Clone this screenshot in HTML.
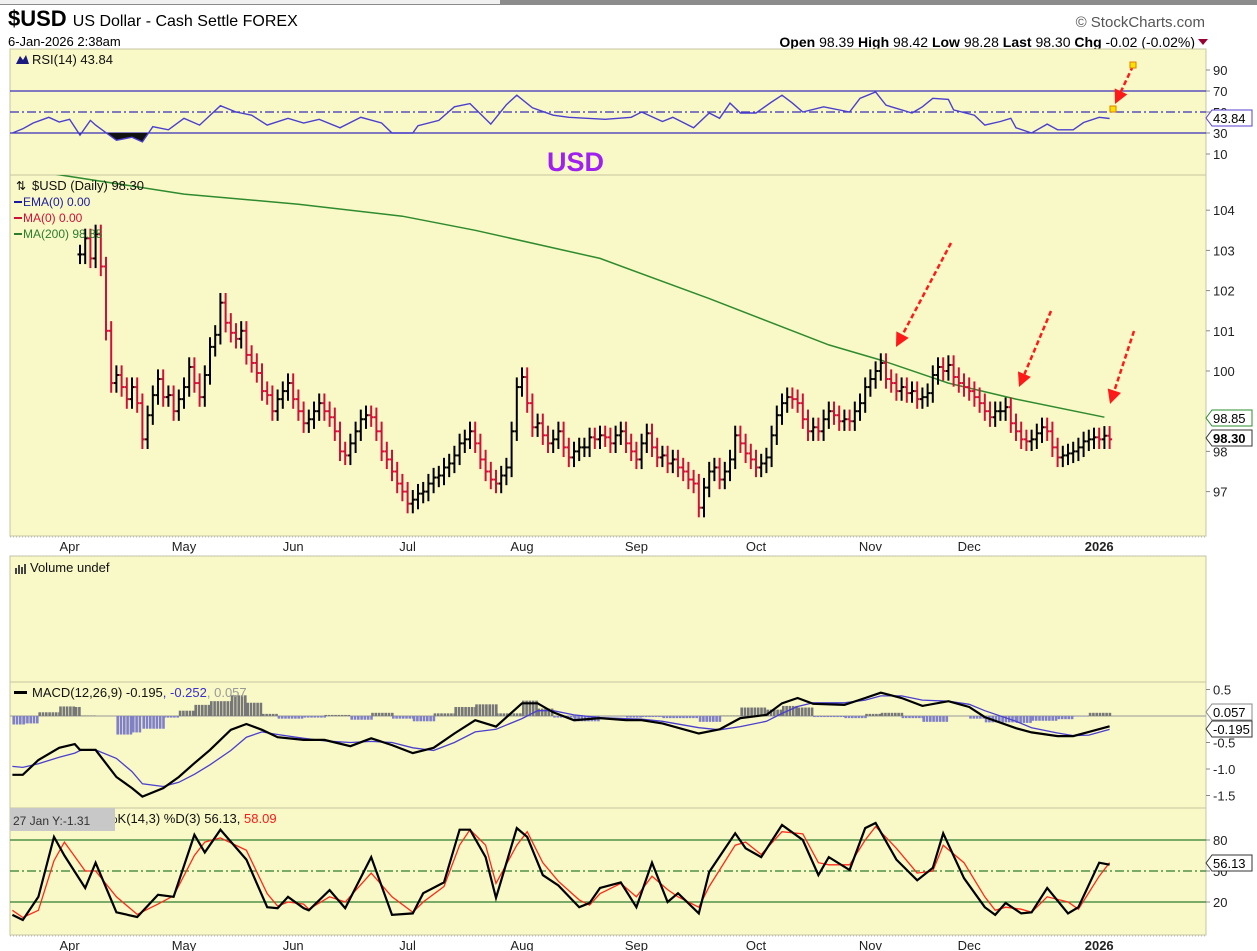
<!DOCTYPE html>
<html><head><meta charset="utf-8">
<style>
html,body{margin:0;padding:0;background:#fff;}
svg{display:block;font-family:"Liberation Sans",sans-serif;}
</style></head>
<body>
<svg id="chart" width="1257" height="951" viewBox="0 0 1257 951" xmlns="http://www.w3.org/2000/svg">
  <rect x="0" y="0" width="1257" height="951" fill="#ffffff"/>
  <rect x="0" y="0" width="1257" height="5" fill="#8c8c8c"/>
  <rect x="0" y="0" width="500" height="4" fill="#f0f0f0"/>
  <text x="8" y="26" font-size="22" font-weight="bold" fill="#000">$USD <tspan font-size="16" font-weight="normal">US Dollar - Cash Settle FOREX</tspan></text>
  <text x="8" y="46" font-size="13" fill="#000">6-Jan-2026 2:38am</text>
  <text x="1205" y="27" font-size="15" fill="#555" text-anchor="end">© StockCharts.com</text>
  <text x="1195" y="47" font-size="14" fill="#000" text-anchor="end"><tspan font-weight="bold">Open</tspan> 98.39  <tspan font-weight="bold">High</tspan> 98.42  <tspan font-weight="bold">Low</tspan> 98.28  <tspan font-weight="bold">Last</tspan> 98.30  <tspan font-weight="bold">Chg</tspan> -0.02 (-0.02%)</text>
  <path d="M1198 39 L1208 39 L1203 45 Z" fill="#990033"/>
  <g id="panels"></g>
  <g id="marks"></g>
</svg>
<script>
// ---------------- data ----------------
const closes = [102.9,103.3,102.8,103.4,102.6,101.0,99.7,99.9,99.6,99.3,
99.6,99.2,98.3,98.9,99.4,99.8,99.35,99.4,99.0,99.3,
99.6,100.1,99.7,99.35,99.9,100.6,100.9,101.7,101.2,100.95,
100.8,101.0,100.4,100.2,99.95,99.5,99.4,99.0,99.3,99.5,
99.7,99.3,99.0,98.7,98.8,99.0,99.2,99.0,98.85,98.5,
98.0,97.9,98.2,98.5,98.8,98.9,98.85,98.5,98.0,97.8,
97.5,97.2,97.0,96.7,96.8,96.95,97.0,97.2,97.35,97.4,
97.6,97.7,97.9,98.2,98.3,98.5,98.2,97.8,97.5,97.3,
97.2,97.4,97.6,98.5,99.6,99.85,99.2,98.6,98.7,98.4,
98.2,98.3,98.5,98.1,97.85,98.0,98.1,98.1,98.35,98.3,
98.4,98.35,98.2,98.4,98.5,98.2,98.0,97.8,98.2,98.45,
98.1,97.85,97.9,97.7,97.8,97.6,97.5,97.3,97.2,96.6,
97.1,97.5,97.6,97.3,97.5,97.8,98.4,98.2,97.95,97.8,
97.6,97.7,97.85,98.4,98.9,99.2,99.35,99.3,99.2,98.8,
98.5,98.6,98.5,98.8,99.0,98.9,98.75,98.8,98.75,99.0,
99.2,99.6,99.8,100.0,100.2,99.8,99.7,99.5,99.6,99.45,
99.5,99.3,99.35,99.45,99.9,100.1,100.0,100.15,99.85,99.7,
99.6,99.5,99.35,99.2,99.0,98.85,99.0,99.0,99.1,98.7,
98.5,98.3,98.25,98.3,98.45,98.6,98.5,98.1,97.85,97.9,
97.95,98.0,98.1,98.25,98.3,98.35,98.3,98.39,98.30];
const barRange = 0.24;

const maIdx = [-5,20,42,62,76,100,121,144,154,167,180,197];
const maVals = [104.9,104.4,104.15,103.85,103.5,102.8,101.8,100.65,100.27,99.7,99.3,98.85];

const rsiIdx = [-13,-11,-9,-6,-4,-2,0,2,3,7,10,12,14,17,20,23,27,30,33,36,40,43,46,50,54,58,60,64,65,69,72,75,79,82,84,87,91,94,101,106,108,112,114,118,121,123,125,127,130,133,135,137,139,143,148,150,153,155,160,162,164,167,168,172,174,177,179,180,183,186,188,191,193,196,198];
const rsiVals = [30,34,39.5,45,40.5,43,28,42,37.5,23,26,21.5,36,33,44,37.5,56,50,47,37.5,44,39.5,43,35,45,39.5,30,30,37,42,55,58,38.5,57,66,54,47,45,43,45,50,41,45,35,49,44,58.5,49,49,59.5,66,58.5,50,55,50,63,69,56.5,49,55,63,62,52,47,37.5,41,44,35,30,38.5,33,33,40,45,43.84];

const macdIdx = [-13,-11,-8,-4,-1,0,3,7,10,12,16,19,22,25,29,32,35,38,43,47,52,56,60,64,68,72,76,80,85,88,91,95,100,105,108,112,119,123,127,132,135,138,141,147,151,154,158,162,167,171,174,180,183,188,191,194,198];
const macdVals = [-1.11,-1.11,-0.83,-0.6,-0.53,-0.64,-0.64,-1.15,-1.36,-1.52,-1.36,-1.15,-0.89,-0.64,-0.26,-0.15,-0.26,-0.4,-0.45,-0.45,-0.57,-0.42,-0.55,-0.7,-0.6,-0.33,-0.08,-0.2,0.24,0.24,0.07,-0.08,-0.04,-0.08,-0.08,-0.14,-0.33,-0.25,-0.04,0.02,0.24,0.34,0.23,0.21,0.34,0.44,0.34,0.19,0.28,0.17,-0.02,-0.23,-0.31,-0.38,-0.38,-0.3,-0.195];
const signalVals = [-0.95,-0.97,-0.9,-0.78,-0.7,-0.65,-0.64,-0.8,-1.05,-1.28,-1.33,-1.25,-1.1,-0.92,-0.65,-0.4,-0.3,-0.35,-0.42,-0.47,-0.5,-0.48,-0.5,-0.6,-0.65,-0.5,-0.3,-0.25,-0.05,0.1,0.1,0.02,-0.03,-0.05,-0.06,-0.1,-0.22,-0.26,-0.2,-0.1,0.05,0.18,0.25,0.25,0.3,0.38,0.38,0.3,0.28,0.22,0.1,-0.1,-0.22,-0.32,-0.37,-0.36,-0.252];

const stoIdx = [-13,-11,-8,-5,-3,1,3,7,11,15,18,22,24,27,32,36,38,40,43,44,48,51,56,60,64,66,70,73,75,78,80,84,86,89,92,96,98,100,104,107,110,113,115,119,121,126,128,131,135,139,142,144,148,151,153,157,161,164,166,170,174,176,178,181,183,186,190,192,196,198];
const stoK = [7.5,2.6,25,83,65,33.5,58,10,5.5,27,25,85,68,90,61,15,14,25,14,12,31.5,14,63.5,7.5,9,28.5,39,90,90,63.5,24,91.5,83,46,36,15,19,33.5,39,15,58,20,28.5,9,49,86.5,72,63.5,94.5,80,46,63.5,51,91.5,96.5,61,41,53,86.5,43,15,7.5,19,9,10,33.5,9,15,58,56.13];
const stoD = [12,5,12,60,78,50,50,25,8,18,26,65,78,82,70,28,16,20,18,13,25,20,48,25,10,20,35,75,90,75,38,75,88,58,40,22,17,28,38,25,45,32,25,15,35,75,78,66,88,86,58,56,56,80,93,72,48,50,75,58,25,12,15,13,10,25,20,13,45,58.09];

const monthLabels = ["Apr","May","Jun","Jul","Aug","Sep","Oct","Nov","Dec","2026"];
const monthIdx = [-2,20,41,63,85,107,130,152,171,196];
const priceTicks = [104,103,102,101,100,98,97];
const rsiTicks = [90,70,50,30,10];
const macdTicks = [0.5,-0.5,-1.0,-1.5];
const stoTicks = [80,50,20];

// ---------------- scales ----------------
const X0 = 10, X1 = 1206;
const xs = i => 80 + i * 5.2;
const yPrice = p => 371 + (100 - p) * 40.2;
const yRsi = v => 112 - (v - 50) * 1.05;
const yMacd = v => 716 - v * 53;
const ySto = v => 871 - (v - 50) * 1.033;

const NS = "http://www.w3.org/2000/svg";
const panels = document.getElementById('panels');
const marks = document.getElementById('marks');
function el(tag, attrs, parent, txt) {
  const e = document.createElementNS(NS, tag);
  for (const k in attrs) e.setAttribute(k, attrs[k]);
  if (txt !== undefined) e.textContent = txt;
  (parent || marks).appendChild(e);
  return e;
}

const defs = el('defs', {}, panels);
[['clipRsi',49,126],['clipPrice',175,361],['clipMacd',682,126],['clipSto',808,127]].forEach(c => {
  const cp = el('clipPath', {id: c[0]}, defs);
  el('rect', {x: X0, y: c[1], width: X1 - X0, height: c[2]}, cp);
});

const panelDefs = [['rsi-panel',49,126],['price-panel',175,361],['volume-panel',556,126],['macd-panel',682,126],['stoch-panel',808,127]];
panelDefs.forEach(p => {
  const r = el('rect', {x: X0, y: p[1], width: X1 - X0, height: p[2], fill: '#f9f8c7', stroke: '#c8c6a0', 'stroke-width': 1}, panels);
  
  
});

function dateAxis(y, name) {
  const g = el('g', {}, panels);
  
  
  el('line', {x1: X0, x2: X1, y1: y - 8, y2: y - 8, stroke: '#bbb', 'stroke-dasharray': '1,2'}, g);
  el('line', {x1: X0, x2: X1, y1: y + 11, y2: y + 11, stroke: '#bbb', 'stroke-dasharray': '1,2'}, g);
  monthLabels.forEach((m, k) => {
    const t = el('text', {x: xs(monthIdx[k]), y: y + 6, 'font-size': 13, 'text-anchor': 'middle', fill: '#222', 'font-weight': m === '2026' ? 'bold' : 'normal'}, g, m);
    
    
  });
}
dateAxis(545, 'price-date-axis');
dateAxis(944, 'lower-date-axis');

function ticks(arr, fy, fmt, name) {
  arr.forEach(v => {
    const y = fy(v);
    el('line', {x1: X1, x2: X1 + 4, y1: y, y2: y, stroke: '#888'}, panels);
    const t = el('text', {x: 1213, y: y + 5, 'font-size': 13, fill: '#222'}, panels, fmt(v));
    
    
  });
}
ticks(rsiTicks, yRsi, v => String(v), 'rsi-tick');
ticks(priceTicks, yPrice, v => String(v), 'price-tick');
ticks(macdTicks, yMacd, v => v.toFixed(1), 'macd-tick');
ticks(stoTicks, ySto, v => String(v), 'stoch-tick');

// ---------------- RSI ----------------
const gR = el('g', {'clip-path': 'url(#clipRsi)'});
[70, 30].forEach(v => el('line', {x1: X0, x2: X1, y1: yRsi(v), y2: yRsi(v), stroke: '#3a2fb8', 'stroke-width': 1.3}, gR));
el('line', {x1: X0, x2: X1, y1: yRsi(50), y2: yRsi(50), stroke: '#3a2fb8', 'stroke-width': 1.3, 'stroke-dasharray': '9,3,2,3'}, gR);
let rp = rsiIdx.map((d, k) => xs(d).toFixed(1) + ',' + yRsi(rsiVals[k]).toFixed(1));
const cpB = el('clipPath', {id: 'rsiLow'}, defs);
el('rect', {x: X0, y: yRsi(30), width: X1 - X0, height: 60}, cpB);
const rFill = el('polygon', {points: xs(rsiIdx[0]) + ',' + yRsi(30) + ' ' + rp.join(' ') + ' ' + xs(rsiIdx[rsiIdx.length - 1]) + ',' + yRsi(30), fill: '#111', 'clip-path': 'url(#rsiLow)'}, gR);


const rLine = el('polyline', {points: rp.join(' '), fill: 'none', stroke: '#4a3fd0', 'stroke-width': 1.4}, gR);


const rT = el('text', {x: 32, y: 64, 'font-size': 13, fill: '#111'}, marks, 'RSI(14) 43.84');


el('path', {d: 'M16 64 L20 56 L23 60 L26 55 L29 64 Z', fill: '#1a1a80'});
const usd = el('text', {x: 547, y: 171, 'font-size': 27, 'font-weight': 'bold', fill: '#a020f0'}, marks, 'USD');



// ---------------- Price ----------------
const gP = el('g', {'clip-path': 'url(#clipPrice)'});
const maLine = el('polyline', {points: maIdx.map((d, k) => xs(d).toFixed(1) + ',' + yPrice(maVals[k]).toFixed(1)).join(' '), fill: 'none', stroke: '#2e8b2e', 'stroke-width': 1.5}, gP);


closes.forEach((c, i) => {
  const o = i > 0 ? closes[i - 1] : c;
  const hi = Math.max(o, c) + barRange, lo = Math.min(o, c) - barRange;
  const col = c >= o ? '#000' : '#d0103a';
  const x = xs(i);
  const g = el('g', {stroke: col, 'stroke-width': 2}, gP);
  
  
  el('line', {x1: x, x2: x, y1: yPrice(hi), y2: yPrice(lo)}, g);
  el('line', {x1: x - 2.5, x2: x, y1: yPrice(o), y2: yPrice(o)}, g);
  el('line', {x1: x, x2: x + 2.5, y1: yPrice(c), y2: yPrice(c)}, g);
});
const pl = el('g', {'font-size': 12});


el('text', {x: 32, y: 190, 'font-size': 13, fill: '#111'}, pl, '$USD (Daily) 98.30');
el('text', {x: 16, y: 190, 'font-size': 12, fill: '#111'}, pl, '⇅');
[['EMA(0) 0.00', '#1a1aa0', 206], ['MA(0) 0.00', '#d0103a', 222], ['MA(200) 98.85', '#2e7d2e', 238]].forEach(a => {
  el('rect', {x: 14, y: a[2] - 5, width: 8, height: 2, fill: a[1]}, pl);
  el('text', {x: 23, y: a[2], fill: a[1]}, pl, a[0]);
});
function arrow(x1, y1, x2, y2, name) {
  const g = el('g', {});
  
  
  const a = Math.atan2(y2 - y1, x2 - x1);
  const bx = x2 - 14 * Math.cos(a), by = y2 - 14 * Math.sin(a);
  el('line', {x1: x1, y1: y1, x2: bx, y2: by, stroke: '#ff1a1a', 'stroke-width': 2.5, 'stroke-dasharray': '5,3'}, g);
  const px = -Math.sin(a) * 7, py = Math.cos(a) * 7;
  el('path', {d: `M${x2} ${y2} L${bx + px} ${by + py} L${bx - px} ${by - py} Z`, fill: '#ff1a1a'}, g);
}
arrow(951, 243, 896, 347, 'annotation-arrow-nov');
arrow(1051, 311, 1019, 387, 'annotation-arrow-dec');
arrow(1134, 331, 1110, 404, 'annotation-arrow-jan');
arrow(1133, 66, 1115, 104, 'annotation-arrow-rsi');
el('rect', {x: 1130, y: 62, width: 6, height: 6, fill: '#ffe000', stroke: '#e08000'});
el('rect', {x: 1110, y: 106, width: 6, height: 6, fill: '#ffe000', stroke: '#e08000'});

function valTag(y, txt, col, bold, name) {
  const g = el('g', {});
  
  
  el('path', {d: `M1206 ${y} L1212 ${y - 8} L1252 ${y - 8} L1252 ${y + 8} L1212 ${y + 8} Z`, fill: '#fff', stroke: col}, g);
  el('text', {x: 1213, y: y + 5, 'font-size': 13, fill: '#000', 'font-weight': bold ? 'bold' : 'normal'}, g, txt);
}
valTag(118, '43.84', '#5a3fd0', false, 'rsi-value-tag');
valTag(418, '98.85', '#2e8b2e', false, 'ma200-value-tag');
valTag(438, '98.30', '#333', true, 'price-value-tag');
valTag(712, '0.057', '#888', false, 'hist-value-tag');
valTag(729, '-0.195', '#333', false, 'macd-value-tag');
valTag(863, '56.13', '#333', false, 'stoch-value-tag');

// ---------------- Volume ----------------
const vT = el('text', {x: 30, y: 572, 'font-size': 13, fill: '#111'}, marks, 'Volume undef');


el('path', {d: 'M15 574 h2 v-6 h-2 z M18 574 h2 v-9 h-2 z M21 574 h2 v-7 h-2 z M24 574 h2 v-10 h-2 z', fill: '#444'});

// ---------------- MACD ----------------
const gM = el('g', {'clip-path': 'url(#clipMacd)'});
el('line', {x1: X0, x2: X1, y1: yMacd(0), y2: yMacd(0), stroke: '#999', 'stroke-width': 1}, gM);
macdIdx.forEach((d, k) => {
  if (k === macdIdx.length - 1) return;
  const h = macdVals[k] - signalVals[k];
  const xa = xs(d), xb = xs(macdIdx[k + 1]);
  for (let x = xa; x < xb - 0.5; x += 3.3) {
    const r = el('rect', {x: x, y: Math.min(yMacd(0), yMacd(h)), width: 2.6, height: Math.abs(yMacd(h) - yMacd(0)), fill: h >= 0 ? '#777' : '#8080c8'}, gM);
    
    
  }
});
const sigL = el('polyline', {points: macdIdx.map((d, k) => xs(d).toFixed(1) + ',' + yMacd(signalVals[k]).toFixed(1)).join(' '), fill: 'none', stroke: '#4a3fd0', 'stroke-width': 1.3}, gM);


const macL = el('polyline', {points: macdIdx.map((d, k) => xs(d).toFixed(1) + ',' + yMacd(macdVals[k]).toFixed(1)).join(' '), fill: 'none', stroke: '#000', 'stroke-width': 2.2}, gM);


const mT = el('text', {x: 32, y: 697, 'font-size': 13, fill: '#111'}, marks);


mT.innerHTML = 'MACD(12,26,9) -0.195<tspan fill="#3a2fd0">, -0.252</tspan><tspan fill="#999">, 0.057</tspan>';
el('rect', {x: 14, y: 691, width: 13, height: 3, fill: '#000'});

// ---------------- Stochastic ----------------
const gS = el('g', {'clip-path': 'url(#clipSto)'});
[80, 20].forEach(v => el('line', {x1: X0, x2: X1, y1: ySto(v), y2: ySto(v), stroke: '#2e7d2e', 'stroke-width': 1.3}, gS));
el('line', {x1: X0, x2: X1, y1: ySto(50), y2: ySto(50), stroke: '#2e7d2e', 'stroke-width': 1.3, 'stroke-dasharray': '9,3,2,3'}, gS);
const dL = el('polyline', {points: stoIdx.map((d, k) => xs(d).toFixed(1) + ',' + ySto(stoD[k]).toFixed(1)).join(' '), fill: 'none', stroke: '#ff2a1a', 'stroke-width': 1.3}, gS);


const kL = el('polyline', {points: stoIdx.map((d, k) => xs(d).toFixed(1) + ',' + ySto(stoK[k]).toFixed(1)).join(' '), fill: 'none', stroke: '#000', 'stroke-width': 2.2}, gS);


const sT = el('text', {x: 106, y: 823, 'font-size': 13, fill: '#111'}, marks);


sT.innerHTML = '%K(14,3) %D(3) 56.13, <tspan fill="#ff1a1a">58.09</tspan>';
const tip = el('g', {});


el('rect', {x: 10, y: 808, width: 105, height: 23, fill: '#c8c8c8'}, tip);
el('text', {x: 13, y: 825, 'font-size': 12, fill: '#333'}, tip, '27 Jan Y:-1.31');
</script>
</body></html>
